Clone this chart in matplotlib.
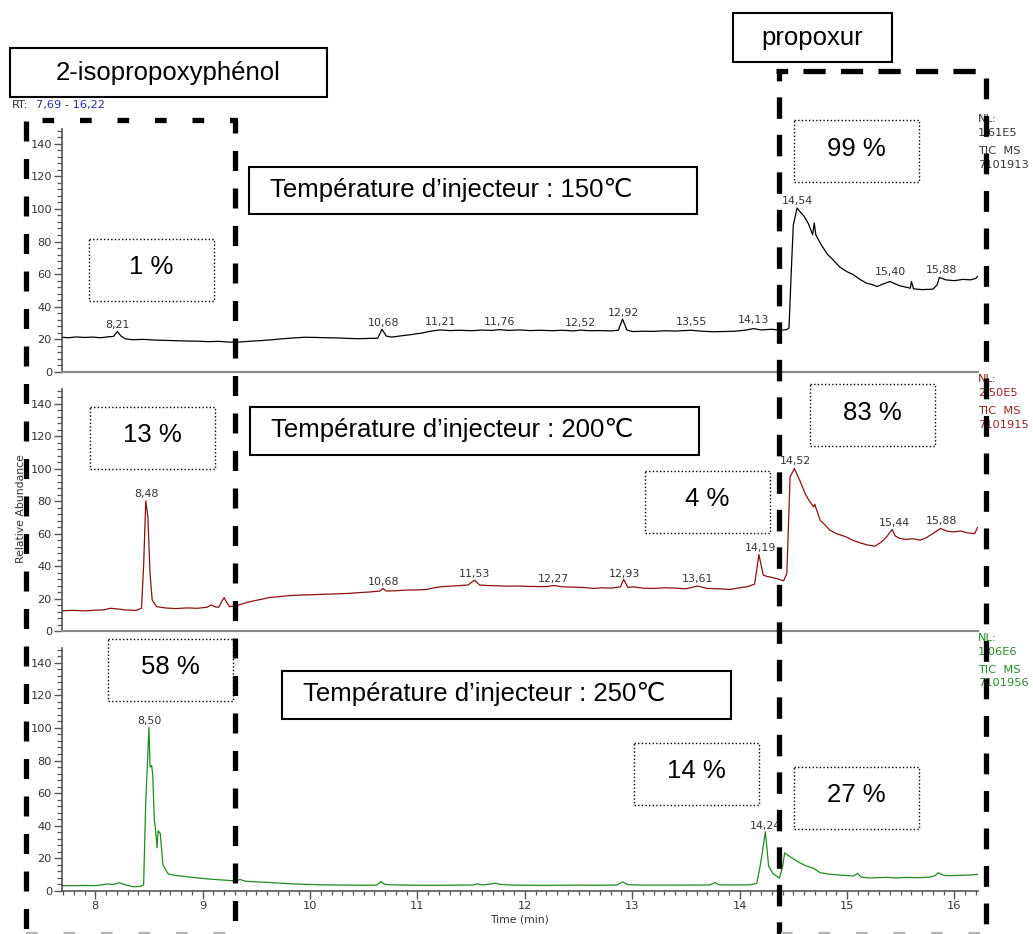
import matplotlib
matplotlib.use("Agg")
import matplotlib.pyplot as plt
from matplotlib.ticker import MultipleLocator
from matplotlib.patches import Rectangle

plt.rcParams['lines.scale_dashes'] = False

# ---------------- data ----------------
rt_range = (7.69, 16.22)
temperatures = [150, 200, 250]
nl_values = ["1,61E5", "2,50E5", "1,06E6"]
file_ids = ["7101913", "7101915", "7101956"]
pct_phenol = [1, 13, 58]
pct_middle = [None, 4, 14]
pct_propoxur = [99, 83, 27]

# 150 °C trace (black)
t_150 = [7.69, 7.75, 7.82, 7.90, 7.98, 8.05, 8.12, 8.17, 8.205, 8.24, 8.28, 8.35, 8.45, 8.55,
         8.65, 8.75, 8.85, 8.95, 9.05, 9.15, 9.25, 9.35, 9.45, 9.55, 9.65, 9.75, 9.85, 9.95,
         10.05, 10.15, 10.25, 10.35, 10.45, 10.55, 10.63, 10.67, 10.71, 10.76, 10.85, 10.95,
         11.05, 11.12, 11.21, 11.30, 11.40, 11.50, 11.60, 11.70, 11.76, 11.85, 11.95, 12.05,
         12.15, 12.25, 12.35, 12.45, 12.52, 12.60, 12.70, 12.80, 12.87, 12.91, 12.95, 13.00,
         13.10, 13.20, 13.30, 13.40, 13.55, 13.65, 13.75, 13.85, 13.95, 14.05, 14.13, 14.20,
         14.30, 14.38, 14.44, 14.46, 14.48, 14.50, 14.535, 14.56, 14.60, 14.64, 14.67, 14.68,
         14.695, 14.71, 14.76, 14.82, 14.87, 14.93, 15.00, 15.06, 15.12, 15.18, 15.24, 15.28,
         15.33, 15.40, 15.45, 15.49, 15.55, 15.59, 15.60, 15.62, 15.70, 15.80, 15.84, 15.86,
         15.92, 16.00, 16.08, 16.15, 16.20, 16.215]
i_150 = [21.3, 21.0, 21.5, 21.2, 21.4, 21.0, 21.6, 21.8, 24.8, 22.0, 20.3, 19.8, 20.0, 19.6,
         19.4, 19.2, 19.0, 18.9, 18.6, 18.8, 18.3, 18.4, 18.9, 19.3, 19.8, 20.4, 20.9, 21.3,
         21.2, 21.0, 20.9, 20.6, 20.4, 20.6, 20.7, 26.2, 22.0, 21.4, 22.2, 23.0,
         24.0, 25.0, 25.8, 25.4, 25.6, 25.3, 25.7, 25.5, 26.0, 25.5, 25.8, 25.4,
         25.6, 25.3, 25.6, 25.2, 25.7, 25.3, 25.4, 25.2, 25.6, 32.4, 25.8, 24.8,
         25.0, 24.9, 25.3, 25.1, 25.6, 25.0, 24.7, 24.8, 25.0, 25.6, 26.6, 25.8,
         26.2, 25.6, 26.0, 27.0, 60.0, 90.0, 100.6, 98.5, 95.5, 91.0, 86.0, 84.2,
         91.4, 84.0, 78.0, 72.0, 68.8, 64.5, 61.5, 59.6, 56.8, 54.5, 53.5, 52.4,
         53.8, 55.5, 54.0, 52.9, 52.0, 51.4, 55.5, 51.0, 50.5, 50.8, 53.5, 58.0,
         56.5, 56.0, 56.8, 56.5, 57.4, 58.6]

# 200 °C trace (dark red)
t_200 = [7.69, 7.80, 7.90, 8.00, 8.08, 8.14, 8.20, 8.29, 8.38, 8.43, 8.45, 8.47, 8.49, 8.51,
         8.53, 8.57, 8.65, 8.75, 8.85, 8.95, 9.04, 9.08, 9.12, 9.15, 9.18, 9.20, 9.22, 9.25,
         9.30, 9.35, 9.38, 9.45, 9.55, 9.63, 9.72, 9.81, 9.91, 10.00, 10.10, 10.21, 10.30,
         10.37, 10.45, 10.55, 10.65, 10.68, 10.71, 10.80, 10.90, 11.00, 11.09, 11.15, 11.21,
         11.30, 11.40, 11.47, 11.53, 11.58, 11.65, 11.75, 11.85, 11.92, 12.00, 12.10, 12.20,
         12.27, 12.35, 12.45, 12.55, 12.64, 12.72, 12.80, 12.89, 12.92, 12.96, 13.01, 13.10,
         13.20, 13.30, 13.40, 13.50, 13.61, 13.70, 13.80, 13.91, 14.00, 14.08, 14.14, 14.18,
         14.22, 14.26, 14.30, 14.36, 14.41, 14.44, 14.47, 14.51, 14.56, 14.61, 14.65, 14.69,
         14.70, 14.75, 14.80, 14.84, 14.90, 14.99, 15.05, 15.12, 15.19, 15.26, 15.32, 15.37,
         15.42, 15.45, 15.49, 15.55, 15.62, 15.68, 15.74, 15.80, 15.87, 15.93, 15.99, 16.06,
         16.12, 16.19, 16.215]
i_200 = [12.5, 12.7, 12.4, 12.8, 13.0, 14.0, 13.6, 12.9, 12.7, 14.0, 40.0, 80.1, 70.0, 35.0,
         19.0, 15.0, 14.2, 13.8, 14.2, 14.0, 14.6, 16.0, 14.8, 14.6, 18.5, 20.5, 18.0, 15.0,
         15.4, 16.2, 17.0, 18.2, 19.6, 20.7, 21.2, 21.8, 22.1, 22.3, 22.5, 22.7, 23.0,
         23.2, 23.6, 24.0, 24.6, 26.2, 24.6, 24.8, 25.2, 25.3, 25.6, 26.5, 27.2,
         27.6, 28.0, 28.3, 31.3, 28.3, 28.0, 27.8, 27.6, 27.7, 27.5, 27.4, 27.3,
         28.0, 27.2, 27.0, 26.8, 26.2, 26.6, 26.4, 27.2, 31.8, 26.8, 27.2, 26.4,
         26.2, 26.6, 26.4, 26.0, 27.7, 26.2, 26.0, 25.6, 26.6, 27.4, 28.9, 47.1,
         34.4, 33.5, 33.0, 32.0, 30.9, 35.5, 94.9, 100.0, 92.8, 84.6, 80.0, 76.4,
         78.0, 68.2, 65.0, 62.1, 60.0, 58.0, 56.0, 54.3, 53.0, 52.2, 54.8, 58.0,
         62.5, 58.5, 57.0, 56.4, 56.8, 55.9, 57.5, 60.0, 63.1, 61.5, 61.0, 61.6,
         60.4, 60.0, 63.7]

# 250 °C trace (green)
t_250 = [7.69, 7.80, 7.90, 8.00, 8.06, 8.11, 8.17, 8.22, 8.27, 8.35, 8.42, 8.45, 8.47, 8.50,
         8.51, 8.525, 8.535, 8.55, 8.56, 8.575, 8.585, 8.605, 8.63, 8.68, 8.75, 8.85, 8.95,
         9.05, 9.15, 9.28, 9.35, 9.40, 9.50, 9.60, 9.70, 9.80, 9.90, 10.00, 10.10, 10.22,
         10.35, 10.50, 10.62, 10.66, 10.69, 10.75, 10.90, 11.05, 11.20, 11.40, 11.52, 11.56,
         11.60, 11.68, 11.72, 11.78, 11.90, 12.10, 12.30, 12.50, 12.70, 12.86, 12.91, 12.96,
         13.10, 13.30, 13.50, 13.72, 13.77, 13.81, 13.95, 14.10, 14.16, 14.19, 14.21, 14.24,
         14.27, 14.31, 14.37, 14.40, 14.42, 14.47, 14.56, 14.62, 14.69, 14.75, 14.84, 14.93,
         15.06, 15.10, 15.13, 15.20, 15.30, 15.37, 15.45, 15.55, 15.68, 15.78, 15.82, 15.85,
         15.90, 15.96, 16.05, 16.15, 16.215]
i_250 = [3.3, 3.2, 3.4, 3.3, 3.8, 4.3, 4.0, 5.1, 4.0, 2.6, 2.8, 3.7, 55.0, 100.2,
         76.0, 77.0, 71.0, 43.5, 38.4, 26.5, 36.9, 35.3, 15.9, 10.4, 9.5, 8.8, 8.0,
         7.4, 6.9, 6.3, 7.0, 6.0, 5.6, 5.3, 4.9, 4.5, 4.2, 4.0, 3.8, 3.7,
         3.6, 3.5, 3.6, 5.8, 4.2, 3.8, 3.6, 3.5, 3.5, 3.6, 3.7, 4.4,
         3.7, 4.2, 4.8, 4.0, 3.6, 3.5, 3.5, 3.6, 3.5, 3.7, 5.6, 3.9,
         3.6, 3.6, 3.6, 3.7, 5.1, 3.8, 3.7, 3.8, 4.7, 14.9, 23.0, 36.3,
         15.3, 10.8, 7.8, 14.9, 23.4, 21.0, 17.3, 15.4, 13.9, 11.2, 10.3, 9.8,
         9.2, 10.8, 8.6, 8.0, 8.2, 8.4, 8.0, 8.3, 8.2, 8.6, 9.4, 11.2,
         9.6, 9.4, 9.6, 9.8, 10.2]

# labelled peaks: retention times and apex heights
peaks_150_t = [8.21, 10.68, 11.21, 11.76, 12.52, 12.92, 13.55, 14.13, 14.54, 15.40, 15.88]
peaks_150_h = [24.8, 26.2, 26.3, 26.6, 26.0, 32.4, 26.6, 27.6, 100.6, 57.0, 58.2]
peaks_200_t = [8.48, 10.68, 11.53, 12.27, 12.93, 13.61, 14.19, 14.52, 15.44, 15.88]
peaks_200_h = [80.1, 26.3, 31.0, 27.8, 31.0, 27.8, 46.8, 100.4, 62.2, 63.6]
peaks_250_t = [8.50, 14.24]
peaks_250_h = [100.4, 36.0]

traces = [(t_150, i_150, peaks_150_t, peaks_150_h),
          (t_200, i_200, peaks_200_t, peaks_200_h),
          (t_250, i_250, peaks_250_t, peaks_250_h)]

# ---------------- styling / layout ----------------
W, H = 1033, 934
line_colors = ['#000000', '#8b1010', '#1e8c1e']
info_colors = ['#333333', '#9b2020', '#2a8a2a']
panel_px = [(62, 129, 978, 372), (62, 389, 978, 631), (62, 648, 978, 891)]
BIGFONT = ['Liberation Sans', 'DejaVu Sans']
SMALL = 8.2

fig = plt.figure(figsize=(W / 100, H / 100), dpi=100)


def frac_rect(l, t, r, b):
    return [l / W, 1 - b / H, (r - l) / W, (b - t) / H]


axes = []
for k, (tt, ii, pt, ph) in enumerate(traces):
    ax = fig.add_axes(frac_rect(*panel_px[k]))
    ax.plot(tt, ii, color=line_colors[k], lw=0.9)
    ax.set_xlim(*rt_range)
    ax.set_ylim(0, 149)
    for s in ('top', 'right'):
        ax.spines[s].set_visible(False)
    ax.spines['left'].set_color('#555555')
    ax.spines['left'].set_linewidth(1.2)
    ax.yaxis.set_major_locator(MultipleLocator(20))
    ax.yaxis.set_minor_locator(MultipleLocator(4))
    ax.tick_params(axis='y', which='major', length=6, width=1.0, color='#555555',
                   labelsize=SMALL, labelcolor='#333333', pad=1.2)
    ax.tick_params(axis='y', which='minor', length=3.5, width=0.9, color='#555555')
    for x, h in zip(pt, ph):
        ax.annotate(f"{x:.2f}".replace('.', ','), xy=(x, h), xytext=(0, 2.6),
                    textcoords='offset points', ha='center', va='baseline',
                    fontsize=7.9, color='#333333')
    if k < 2:
        ax.spines['bottom'].set_color('#888888')
        ax.spines['bottom'].set_linewidth(1.5)
        ax.tick_params(axis='x', which='both', bottom=False, labelbottom=False)
    else:
        ax.spines['bottom'].set_color('#555555')
        ax.spines['bottom'].set_linewidth(1.2)
        ax.xaxis.set_major_locator(MultipleLocator(1))
        ax.xaxis.set_minor_locator(MultipleLocator(0.1))
        ax.tick_params(axis='x', which='major', length=5.5, width=1.0, color='#555555',
                       labelsize=SMALL, labelcolor='#333333', pad=2)
        ax.tick_params(axis='x', which='minor', length=3, width=0.9, color='#555555')
        ax.set_xlabel('Time (min)', fontsize=7.8, color='#333333', labelpad=2.5)
    axes.append(ax)

# ---------------- overlay (annotation layer in pixel coordinates) ----------------
ov = fig.add_axes([0, 0, 1, 1])
ov.set_xlim(0, W)
ov.set_ylim(H, 0)
ov.axis('off')
ov.patch.set_visible(False)
ov.set_zorder(5)

# RT range text
ov.text(12, 105, 'RT:', fontsize=SMALL, color='#333333', ha='left', va='center')
ov.text(36, 105, f"{rt_range[0]:.2f} - {rt_range[1]:.2f}".replace('.', ','),
        fontsize=SMALL, color='#2b2baa', ha='left', va='center')

# y label
ov.text(21.5, 509, 'Relative Abundance', rotation=90, fontsize=7.8, color='#333333',
        ha='center', va='center')

# NL / TIC info at the right of each panel
for k in range(3):
    top = panel_px[k][1]
    lines = ['NL:', nl_values[k], 'TIC  MS', file_ids[k]]
    for dy, s in zip([-10.3, 4.0, 21.7, 35.5], lines):
        ov.text(978, top + dy, s, fontsize=SMALL, color=info_colors[k], ha='left', va='center')

# compound name boxes
ov.add_patch(Rectangle((10, 48), 317, 49, fill=False, ec='black', lw=1.5))
ov.text(168.5, 80, '2-isopropoxyphénol', fontsize=18.5, family=BIGFONT,
        ha='center', va='baseline')
ov.add_patch(Rectangle((733, 13), 159, 49, fill=False, ec='black', lw=1.5))
ov.text(812.5, 45, 'propoxur', fontsize=18.5, family=BIGFONT, ha='center', va='baseline')

# temperature boxes
temp_boxes = [(249, 167, 697, 214), (250, 407, 699, 455), (282, 671, 731, 719)]
for (l, t, r, b), temp in zip(temp_boxes, temperatures):
    ov.add_patch(Rectangle((l, t), r - l, b - t, fill=False, ec='black', lw=1.5))
    ov.text(l + 21, t + 30, f"Température d\u2019injecteur : {temp}\u2103",
            fontsize=18.5, family=BIGFONT, ha='left', va='baseline')

# percentage (dotted) boxes
pct_boxes = [
    [(89, 239), None, (794, 120)],
    [(90, 407), (645, 471), (810, 384)],
    [(108, 639), (634, 743), (794, 767)],
]
BW, BH = 125, 62
for k in range(3):
    vals = [pct_phenol[k], pct_middle[k], pct_propoxur[k]]
    for pos, v in zip(pct_boxes[k], vals):
        if pos is None or v is None:
            continue
        x0, y0 = pos
        ov.add_patch(Rectangle((x0, y0), BW, BH, fill=False, ec='black', lw=1.0,
                               linestyle=(0, (1.0, 1.6))))
        ov.text(x0 + BW / 2, y0 + 35.5, f"{v} %", fontsize=18.5, family=BIGFONT,
                ha='center', va='baseline')

# thick dashed region frames
LW = 3.8
V_DASH = (14.4, 12.6)


def dline(xs, ys, pattern, offset=0.0, color='black', lw=LW):
    ov.plot(xs, ys, color=color, lw=lw, linestyle=(offset, pattern),
            dash_capstyle='butt', solid_capstyle='butt', zorder=10)


# 2-isopropoxyphenol frame
dline([25.5, 25.5], [121, 934], V_DASH)
dline([234.5, 234.5], [118, 934], V_DASH, offset=3.6)
dline([42, 237], [120, 120], (8.4, 18.6))
dline([26, 236], [932.5, 932.5], (8.4, 18.6), color='#b5b5b5', lw=1.6)
# propoxur frame
dline([778.5, 778.5], [71, 934], (15.5, 11.5), offset=8.4)
dline([776, 978], [71, 71], (16.0, 11.0), offset=7.6)
dline([986, 986], [78, 934], (15.0, 12.0))
dline([781, 989], [932.5, 932.5], (8.4, 18.6), color='#b5b5b5', lw=1.6)

fig.savefig('out.png', dpi=100)
